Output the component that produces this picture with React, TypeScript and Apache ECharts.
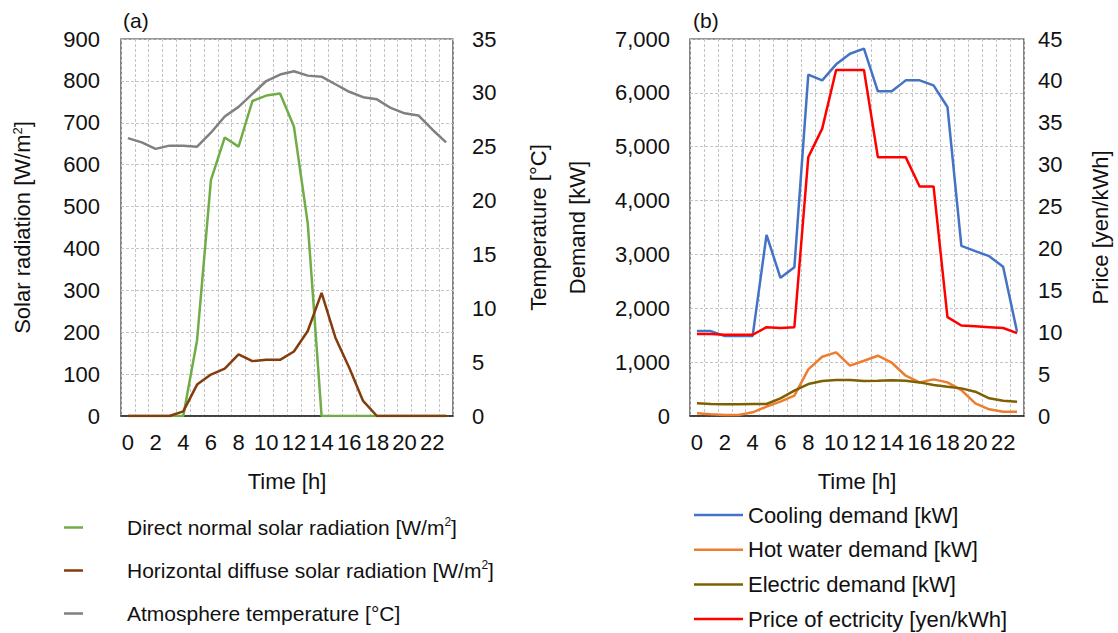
import React, { useEffect, useRef } from "react";
import * as echarts from "echarts";

// Hour of day
const HOURS = ["0", "1", "2", "3", "4", "5", "6", "7", "8", "9", "10", "11", "12", "13", "14", "15", "16", "17", "18", "19", "20", "21", "22", "23"];

// (a) weather inputs
const DIRECT_NORMAL = [0, 0, 0, 0, 0, 181, 563, 665, 643, 752, 765, 770, 691, 460, 0, 0, 0, 0, 0, 0, 0, 0, 0, 0];
const DIFFUSE = [0, 0, 0, 0, 11, 75, 99, 113, 147, 131, 134, 134, 154, 203, 294, 187, 115, 36, 0, 0, 0, 0, 0, 0];
const TEMPERATURE = [25.8, 25.4, 24.8, 25.1, 25.1, 25.0, 26.3, 27.8, 28.7, 29.9, 31.1, 31.7, 32.0, 31.6, 31.5, 30.8, 30.1, 29.6, 29.4, 28.6, 28.1, 27.9, 26.6, 25.4];

// (b) demands and tariff
const COOLING = [1577, 1577, 1484, 1484, 1484, 3363, 2566, 2764, 6337, 6232, 6529, 6727, 6820, 6028, 6028, 6232, 6232, 6139, 5738, 3159, 3060, 2968, 2770, 1564];
const HOT_WATER = [49, 31, 19, 19, 68, 173, 266, 377, 866, 1100, 1181, 934, 1026, 1119, 989, 748, 624, 680, 624, 482, 235, 124, 80, 80];
const ELECTRIC = [235, 223, 216, 216, 223, 223, 328, 470, 594, 649, 668, 668, 649, 655, 662, 655, 624, 575, 544, 513, 451, 328, 284, 266];
const PRICE = [9.8, 9.8, 9.7, 9.7, 9.7, 10.6, 10.5, 10.6, 30.9, 34.3, 41.3, 41.3, 41.3, 30.9, 30.9, 30.9, 27.4, 27.4, 11.8, 10.8, 10.7, 10.6, 10.5, 9.9];

const FONT = "'Liberation Sans', Arial, sans-serif";
const TEXT = "#111111";
const AXIS_FONT = 22;
const supStyle = (size: number) => ({ sup: { fontSize: size, verticalAlign: "top" as const, fontFamily: FONT, color: TEXT } });

const splitLineStyle = { show: true, lineStyle: { color: "#c4c4c4", type: [3, 2] as any, width: 1 } };

function xAxis(gridIndex: number) {
  return {
    type: "category",
    gridIndex,
    data: HOURS,
    boundaryGap: true,
    name: "Time [h]",
    nameLocation: "middle",
    nameGap: 54,
    nameTextStyle: { fontSize: AXIS_FONT, color: TEXT, fontFamily: FONT },
    axisLine: { show: true, lineStyle: { color: "#222", width: 1.5 } },
    axisTick: { show: false, interval: 0 },
    axisLabel: { interval: 1, fontSize: AXIS_FONT, color: TEXT, fontFamily: FONT, margin: 15 },
    splitLine: { ...splitLineStyle, interval: 0 },
  };
}

function yAxis(gridIndex: number, position: string, max: number, interval: number, name: string, nameGap: number, margin: number, grid: boolean, fmt?: (v: number) => string) {
  return {
    type: "value",
    gridIndex,
    position,
    min: 0,
    max,
    interval,
    name,
    nameLocation: "middle",
    nameGap,
    nameTextStyle: { fontSize: AXIS_FONT, color: TEXT, fontFamily: FONT, rich: supStyle(13) },
    axisLine: { show: false },
    axisTick: { show: false },
    axisLabel: { fontSize: AXIS_FONT, color: TEXT, fontFamily: FONT, margin, formatter: fmt },
    splitLine: grid ? splitLineStyle : { show: false },
  };
}

function line(name: string, data: number[], color: string, xAxisIndex: number, yAxisIndex: number) {
  return {
    type: "line",
    name,
    data,
    xAxisIndex,
    yAxisIndex,
    symbol: "none",
    lineStyle: { color, width: 2.5 },
    itemStyle: { color },
    z: 3,
  };
}

export default function App() {
  const ref = useRef<HTMLDivElement>(null);

  useEffect(() => {
    if (!ref.current) return;
    const chart = echarts.init(ref.current, undefined, { renderer: "svg" });
    const thousands = (v: number) => v.toLocaleString("en-US");

    chart.setOption({
      animation: false,
      backgroundColor: "#ffffff",
      textStyle: { fontFamily: FONT },
      title: [
        { text: "(a)", left: 118, top: 5, textStyle: { fontSize: 21, fontWeight: "normal", color: TEXT, fontFamily: FONT } },
        { text: "(b)", left: 688, top: 5, textStyle: { fontSize: 21, fontWeight: "normal", color: TEXT, fontFamily: FONT } },
      ],
      grid: [
        { left: 121, top: 39, width: 332, height: 377, show: true, borderColor: "#333", borderWidth: 1.2, backgroundColor: "transparent" },
        { left: 690, top: 39, width: 334, height: 377, show: true, borderColor: "#333", borderWidth: 1.2, backgroundColor: "transparent" },
      ],
      xAxis: [xAxis(0), xAxis(1)],
      yAxis: [
        yAxis(0, "left", 900, 100, "Solar radiation [W/m{sup|2}]", 88, 21, true),
        yAxis(0, "right", 35, 5, "Temperature [°C]", 74, 19, false),
        yAxis(1, "left", 7000, 1000, "Demand [kW]", 102, 20, true, thousands),
        yAxis(1, "right", 45, 5, "Price [yen/kWh]", 65, 14, false),
      ],
      legend: [
        {
          data: ["Direct normal solar radiation [W/m2]", "Horizontal diffuse solar radiation [W/m2]", "Atmosphere temperature [°C]"],
          orient: "vertical",
          left: 64,
          top: 516,
          padding: 0,
          icon: "rect",
          itemWidth: 19,
          itemHeight: 2.5,
          itemGap: 20,
          formatter: (n: string) => n.replace("m2]", "m{sup|2}]"),
          textStyle: { fontSize: 21, color: TEXT, fontFamily: FONT, lineHeight: 23, padding: [0, 0, 0, 39], rich: supStyle(12) },
        },
        {
          data: ["Cooling demand [kW]", "Hot water demand [kW]", "Electric demand [kW]", "Price of ectricity [yen/kWh]"],
          orient: "vertical",
          left: 694,
          top: 503,
          padding: 0,
          icon: "rect",
          itemWidth: 49,
          itemHeight: 2.5,
          itemGap: 10.7,
          textStyle: { fontSize: 22, color: TEXT, fontFamily: FONT, lineHeight: 24 },
        },
      ],
      series: [
        line("Direct normal solar radiation [W/m2]", DIRECT_NORMAL, "#70AD47", 0, 0),
        line("Horizontal diffuse solar radiation [W/m2]", DIFFUSE, "#843C0C", 0, 0),
        line("Atmosphere temperature [°C]", TEMPERATURE, "#808080", 0, 1),
        line("Cooling demand [kW]", COOLING, "#4472C4", 1, 2),
        line("Hot water demand [kW]", HOT_WATER, "#ED7D31", 1, 2),
        line("Electric demand [kW]", ELECTRIC, "#7F6000", 1, 2),
        line("Price of ectricity [yen/kWh]", PRICE, "#FF0000", 1, 3),
      ],
    });

    return () => chart.dispose();
  }, []);

  return <div ref={ref} style={{ position: "fixed", left: 0, top: 0, width: 1118, height: 633 }} />;
}
